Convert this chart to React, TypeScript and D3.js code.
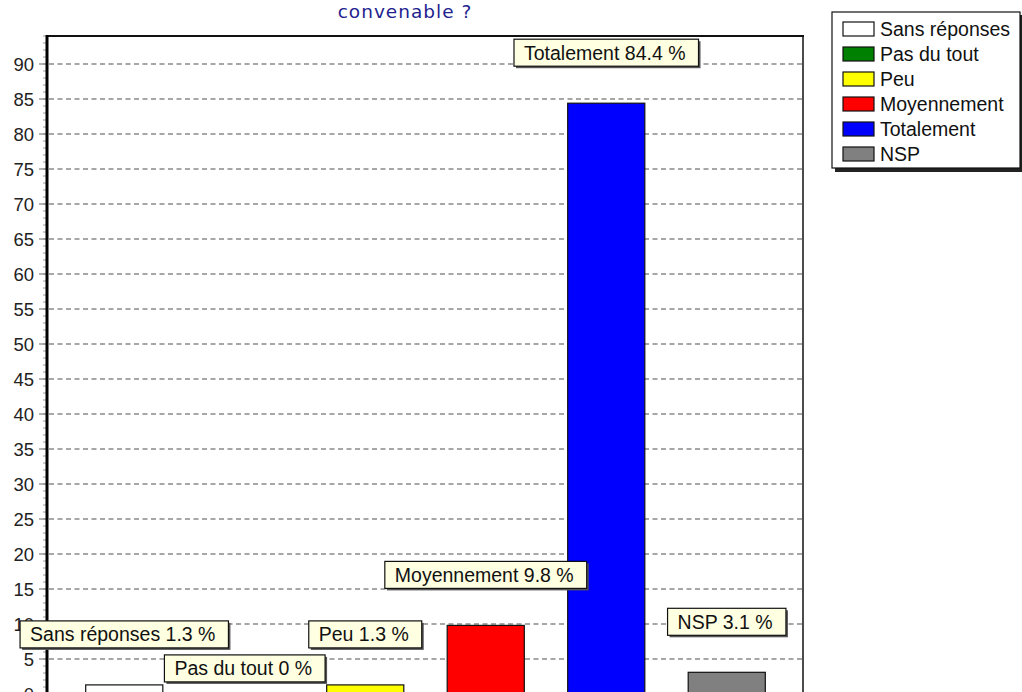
import React from "react";
import * as d3 from "d3";

const categories = ["Sans réponses", "Pas du tout", "Peu", "Moyennement", "Totalement", "NSP"];
const values = [1.3, 0, 1.3, 9.8, 84.4, 3.1];
const colors = ["#ffffff", "#008000", "#ffff00", "#ff0000", "#0000ff", "#808080"];
const yTicks = [0, 5, 10, 15, 20, 25, 30, 35, 40, 45, 50, 55, 60, 65, 70, 75, 80, 85, 90];
const titleText = "convenable ?";

const W = 1022;
const H = 692;
const plot = { left: 47, right: 803, top: 36, bottom: 694 };
const FONT = "'Liberation Sans', Arial, sans-serif";
const FS = 18.5;
const LFS = 19.5;

let ctx: CanvasRenderingContext2D | null = null;
function measure(text: string, size: number, family: string) {
  if (!ctx) ctx = document.createElement("canvas").getContext("2d");
  if (!ctx) return text.length * size * 0.55;
  ctx.font = `${size}px ${family}`;
  return ctx.measureText(text).width;
}

export default function App() {
  const x = d3
    .scaleBand<string>()
    .domain(categories)
    .range([64, 787])
    .paddingInner(0.36)
    .paddingOuter(0.18);
  const y = d3.scaleLinear().domain([0, 94]).range([plot.bottom, plot.top]);
  const minor = d3.range(0, 95, 1);

  // label boxes with simple collision avoidance
  const boxH = 27;
  const boxes: { x0: number; x1: number; top: number; text: string }[] = [];
  categories.forEach((c, i) => {
    const text = `${c} ${values[i]} %`;
    const w = measure(text, LFS, FONT) + 23;
    const cx = (x(c) as number) + x.bandwidth() / 2;
    let top = y(values[i]) - 37 - boxH;
    const x0 = cx - w / 2;
    const x1 = cx + w / 2;
    for (const b of boxes) {
      if (x0 < b.x1 && x1 > b.x0 && top < b.top + boxH && top + boxH > b.top) {
        top = b.top + boxH + 7;
      }
    }
    boxes.push({ x0, x1, top, text });
  });

  return (
    <svg
      width={W}
      height={H}
      style={{ position: "absolute", left: 0, top: 0, background: "#fff" }}
      fontFamily={FONT}
    >
      <rect x={0} y={0} width={W} height={H} fill="#fff" />
      <text
        x={405}
        y={17.5}
        textAnchor="middle"
        fontFamily="'DejaVu Sans', sans-serif"
        fontSize={18.5}
        letterSpacing={1}
        fill="#23238f"
      >
        {titleText}
      </text>

      {/* gridlines */}
      {yTicks.map((t) => (
        <line
          key={"g" + t}
          x1={plot.left + 2}
          x2={plot.right}
          y1={y(t)}
          y2={y(t)}
          stroke="#8a8a8a"
          strokeWidth={1.3}
          strokeDasharray="5,3.5"
        />
      ))}

      {/* minor ticks */}
      {minor.map((t) => (
        <line key={"m" + t} x1={43} x2={46} y1={y(t)} y2={y(t)} stroke="#9a9a9a" strokeWidth={1} />
      ))}
      {yTicks.map((t) => (
        <g key={"t" + t}>
          <line x1={39} x2={46} y1={y(t)} y2={y(t)} stroke="#888" strokeWidth={1.3} />
          <text x={34} y={y(t) + 6.5} textAnchor="end" fontSize={FS} fill="#222">
            {t}
          </text>
        </g>
      ))}

      {/* frame */}
      <line x1={plot.left} x2={plot.right + 1} y1={plot.top} y2={plot.top} stroke="#111" strokeWidth={2} />
      <line x1={plot.right} x2={plot.right} y1={plot.top} y2={H} stroke="#111" strokeWidth={1.5} />

      {/* bars */}
      {categories.map((c, i) => (
        <rect
          key={"b" + c}
          x={x(c)}
          y={y(values[i])}
          width={x.bandwidth()}
          height={y(0) - y(values[i])}
          fill={colors[i]}
          stroke="#111"
          strokeWidth={1.2}
        />
      ))}

      <line x1={plot.left} x2={plot.left} y1={plot.top - 1} y2={H} stroke="#000" strokeWidth={3} />

      {/* labels */}
      {boxes.map((b, i) => (
        <g key={"l" + i}>
          <rect x={b.x0 + 2} y={b.top + 2} width={b.x1 - b.x0} height={boxH} fill="#555" />
          <rect
            x={b.x0}
            y={b.top}
            width={b.x1 - b.x0}
            height={boxH}
            fill="#ffffe1"
            stroke="#111"
            strokeWidth={1.2}
          />
          <text x={b.x0 + 10} y={b.top + boxH / 2 + 7} fontSize={LFS} fill="#111">
            {b.text}
          </text>
        </g>
      ))}

      {/* legend */}
      <rect x={835} y={15} width={190} height={157} fill="#222" />
      <rect x={832} y={12} width={188} height={156} fill="#fff" stroke="#111" strokeWidth={1.2} />
      {categories.map((c, i) => (
        <g key={"lg" + c}>
          <rect x={843} y={22 + i * 25} width={31} height={14} fill={colors[i]} stroke="#111" strokeWidth={1.2} />
          <text x={880} y={29 + i * 25 + 7} fontSize={LFS} fill="#111">
            {c}
          </text>
        </g>
      ))}
    </svg>
  );
}
